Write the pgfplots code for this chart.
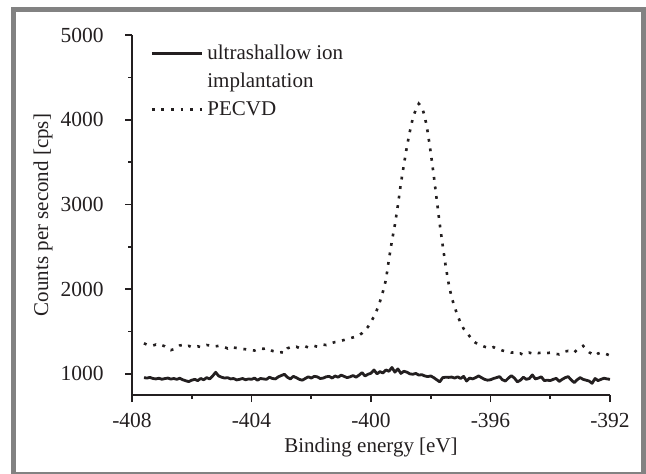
\documentclass[border=0pt]{standalone}
\usepackage{fontspec}
\setmainfont{Liberation Serif}
\usepackage{pgfplots}
\pgfplotsset{compat=1.18}
\definecolor{txt}{RGB}{35,31,32}
\definecolor{framegray}{RGB}{130,130,130}
\begin{document}
\begin{tikzpicture}
\path[use as bounding box] (0,0) rectangle (323pt,236.5pt);
\begin{scope}
\clip (0,0) rectangle (323pt,236.5pt);
\draw[framegray, line width=2.5pt] (6.75pt,-0.75pt) rectangle (321.75pt,231.75pt);
\end{scope}
\begin{axis}[
  at={(66pt,39pt)}, anchor=south west,
  scale only axis, width=239pt, height=180pt,
  xmin=-408, xmax=-392, ymin=750, ymax=5000,
  axis lines=left, axis line style={-, line width=0.8pt, txt},
  tick align=outside, tick style={line width=0.8pt, txt},
  major tick length=3.5pt, minor tick length=2pt,
  xtick={-408,-404,-400,-396,-392},
  xticklabels={-408,-404,-400,-396,-392},
  minor x tick num=1,
  ytick={1000,2000,3000,4000,5000},
  yticklabels={1000,2000,3000,4000,5000},
  minor y tick num=1,
  font=\fontsize{10.5}{12.6}\selectfont,
  every tick label/.append style={txt, inner sep=0pt, font=\fontsize{10.75}{13}\selectfont},
  xticklabel style={anchor=center, yshift=-9pt},
  yticklabel style={anchor=east, xshift=-10.5pt},
  xlabel={Binding energy [eV]},
  ylabel={Counts per second [cps]},
  every axis x label/.style={at={(axis description cs:0.5,-0.147)}, anchor=center, txt},
  every axis y label/.style={at={(axis description cs:-0.186,0.5)}, rotate=90, anchor=center, txt},
  legend style={draw=none, fill=none, at={(0.025,1.0)}, anchor=north west,
    font=\fontsize{10.5}{12.6}\selectfont, text=txt, row sep=0pt,
    nodes={inner sep=0pt, text height=10pt, text depth=4pt, inner xsep=2pt}},
  legend cell align=left,
  legend image code/.code={\draw[#1] (0pt,0pt) -- (25pt,0pt);},
  clip=false,
]
\addlegendimage{txt, line width=1.5pt}
\addlegendentry{ultrashallow ion}
\addlegendimage{empty legend}
\addlegendentry{implantation}
\addlegendimage{txt, line width=1.3pt, dash pattern=on 1.4pt off 3.4pt}
\addlegendentry{PECVD}

\addplot[forget plot, txt, line width=1.4pt, line join=round] coordinates {
(-407.6,955)(-407.5,950)(-407.4,958)(-407.3,945)(-407.2,940)(-407.1,948)(-407.0,936)
(-406.9,944)(-406.8,950)(-406.7,938)(-406.6,945)(-406.5,935)(-406.4,948)(-406.3,930)
(-406.2,918)(-406.1,908)(-406.0,925)(-405.9,935)(-405.8,920)(-405.7,945)(-405.6,930)
(-405.5,955)(-405.4,940)(-405.3,975)(-405.2,1018)(-405.1,975)(-405.0,960)(-404.9,950)
(-404.8,955)(-404.7,940)(-404.6,945)(-404.5,928)(-404.4,935)(-404.3,945)(-404.2,930)
(-404.1,940)(-404.0,935)(-403.9,950)(-403.8,925)(-403.7,945)(-403.6,940)(-403.5,935)
(-403.4,960)(-403.3,945)(-403.2,940)(-403.1,965)(-403.0,980)(-402.9,995)(-402.8,960)
(-402.7,940)(-402.6,970)(-402.5,955)(-402.4,935)(-402.3,925)(-402.2,945)(-402.1,965)
(-402.0,950)(-401.9,970)(-401.8,965)(-401.7,945)(-401.6,950)(-401.5,965)(-401.4,970)
(-401.3,950)(-401.2,975)(-401.1,960)(-401.0,985)(-400.9,970)(-400.8,955)(-400.7,965)
(-400.6,980)(-400.5,960)(-400.4,985)(-400.3,1014)(-400.2,975)(-400.1,995)(-400.0,1007)
(-399.9,1046)(-399.8,1000)(-399.7,1026)(-399.6,1010)(-399.5,1046)(-399.4,1030)(-399.3,1075)
(-399.2,1020)(-399.1,1058)(-399.0,1005)(-398.9,1030)(-398.8,1020)(-398.7,1000)(-398.6,995)
(-398.5,1005)(-398.4,985)(-398.3,990)(-398.2,975)(-398.1,967)(-398.0,975)(-397.9,955)
(-397.8,930)(-397.7,905)(-397.6,955)(-397.5,960)(-397.4,958)(-397.3,962)(-397.2,950)
(-397.1,965)(-397.0,945)(-396.9,970)(-396.8,915)(-396.7,950)(-396.6,940)(-396.5,955)
(-396.4,975)(-396.3,955)(-396.2,935)(-396.1,925)(-396.0,930)(-395.9,945)(-395.8,955)
(-395.7,967)(-395.6,930)(-395.5,915)(-395.4,950)(-395.3,978)(-395.2,950)(-395.1,905)
(-395.0,925)(-394.9,960)(-394.8,935)(-394.7,945)(-394.6,987)(-394.5,940)(-394.4,950)
(-394.3,965)(-394.2,920)(-394.1,925)(-394.0,920)(-393.9,935)(-393.8,947)(-393.7,910)
(-393.6,935)(-393.5,955)(-393.4,967)(-393.3,930)(-393.2,896)(-393.1,930)(-393.0,955)
(-392.9,935)(-392.8,925)(-392.7,915)(-392.6,888)(-392.5,945)(-392.4,920)(-392.3,935)
(-392.2,948)(-392.1,940)(-392.0,935)
};
\addplot[forget plot, txt, line width=1.3pt, dash pattern=on 1.4pt off 3.4pt] coordinates {
(-407.6,1360)(-407.5,1345)(-407.4,1340)(-407.3,1335)(-407.2,1345)(-407.1,1330)(-407.0,1338)
(-406.9,1325)(-406.8,1300)(-406.7,1280)(-406.6,1290)(-406.5,1310)(-406.4,1335)(-406.3,1340)
(-406.2,1320)(-406.1,1330)(-406.0,1315)(-405.9,1320)(-405.8,1325)(-405.7,1315)(-405.6,1330)
(-405.5,1340)(-405.4,1335)(-405.3,1340)(-405.2,1325)(-405.1,1330)(-405.0,1320)(-404.9,1315)
(-404.8,1300)(-404.7,1320)(-404.6,1310)(-404.5,1305)(-404.4,1300)(-404.3,1295)(-404.2,1290)
(-404.1,1285)(-404.0,1280)(-403.9,1275)(-403.8,1290)(-403.7,1300)(-403.6,1295)(-403.5,1305)
(-403.4,1290)(-403.3,1270)(-403.2,1265)(-403.1,1250)(-403.0,1255)(-402.9,1245)(-402.8,1300)
(-402.7,1315)(-402.6,1310)(-402.5,1320)(-402.4,1305)(-402.3,1315)(-402.2,1325)(-402.1,1310)
(-402.0,1315)(-401.9,1330)(-401.8,1320)(-401.7,1330)(-401.6,1345)(-401.5,1340)(-401.4,1355)
(-401.3,1365)(-401.2,1375)(-401.1,1380)(-401.0,1390)(-400.9,1400)(-400.8,1410)(-400.7,1420)
(-400.6,1430)(-400.5,1440)(-400.4,1455)(-400.3,1480)(-400.2,1515)(-400.1,1555)(-400.0,1615)
(-399.9,1676)(-399.8,1756)(-399.7,1854)(-399.6,1970)(-399.5,2111)(-399.4,2352)(-399.3,2570)
(-399.2,2760)(-399.1,2990)(-399.0,3246)(-398.9,3468)(-398.8,3680)(-398.7,3860)(-398.6,4020)
(-398.5,4120)(-398.4,4189)(-398.3,4150)(-398.2,4040)(-398.1,3850)(-398.0,3610)(-397.9,3343)
(-397.8,3056)(-397.7,2770)(-397.6,2515)(-397.5,2270)(-397.4,2063)(-397.3,1900)(-397.2,1787)
(-397.1,1684)(-397.0,1600)(-396.9,1533)(-396.8,1490)(-396.7,1444)(-396.6,1397)(-396.5,1367)
(-396.4,1350)(-396.3,1335)(-396.2,1320)(-396.1,1310)(-396.0,1300)(-395.9,1315)(-395.8,1300)
(-395.7,1290)(-395.6,1275)(-395.5,1265)(-395.4,1260)(-395.3,1250)(-395.2,1255)(-395.1,1235)
(-395.0,1240)(-394.9,1225)(-394.8,1245)(-394.7,1250)(-394.6,1240)(-394.5,1255)(-394.4,1245)
(-394.3,1250)(-394.2,1240)(-394.1,1245)(-394.0,1250)(-393.9,1240)(-393.8,1235)(-393.7,1230)
(-393.6,1250)(-393.5,1265)(-393.4,1270)(-393.3,1260)(-393.2,1250)(-393.1,1285)(-393.0,1310)
(-392.9,1330)(-392.8,1290)(-392.7,1255)(-392.6,1235)(-392.5,1215)(-392.4,1240)(-392.3,1250)
(-392.2,1245)(-392.1,1230)(-392.0,1215)
};
\end{axis}
\end{tikzpicture}
\end{document}
